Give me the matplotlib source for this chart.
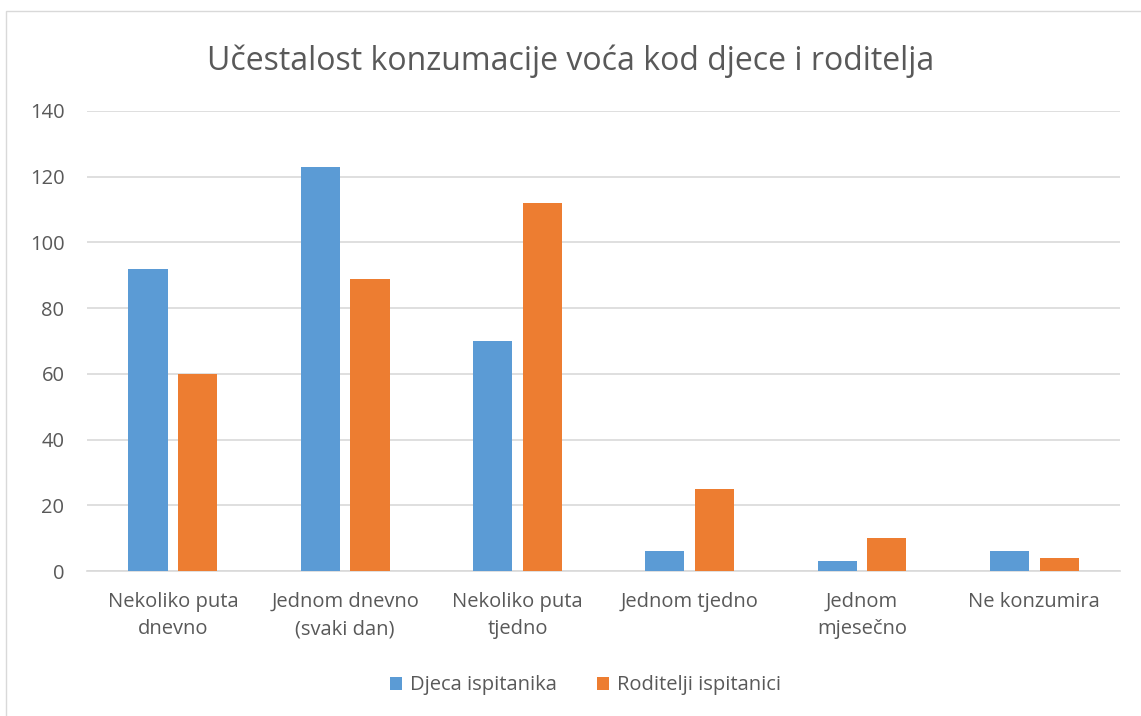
import numpy as np
import matplotlib.pyplot as plt
from matplotlib.patches import Rectangle

plt.rcParams['font.family'] = ['Open Sans', 'DejaVu Sans']

categories = ["Nekoliko puta\ndnevno", "Jednom dnevno\n(svaki dan)", "Nekoliko puta\ntjedno",
              "Jednom tjedno", "Jednom\nmjesečno", "Ne konzumira"]
djeca = [92, 123, 70, 6, 3, 6]
roditelji = [60, 89, 112, 25, 10, 4]
yticks = [0, 20, 40, 60, 80, 100, 120, 140]

blue = "#5B9BD5"
orange = "#ED7D31"
text_col = "#595959"

fig = plt.figure(figsize=(11.41, 7.16), dpi=100)
# chart border
fig.patches.append(Rectangle((0.005, -0.01), 1.2, 0.994, transform=fig.transFigure,
                             fill=False, edgecolor="#D9D9D9", linewidth=1))

ax = fig.add_axes([0.076, 0.2025, 0.906, 0.6425])
x = np.arange(len(categories))
w = 0.227
ax.bar(x - 0.144, djeca, w, color=blue, label="Djeca ispitanika", zorder=3)
ax.bar(x + 0.144, roditelji, w, color=orange, label="Roditelji ispitanici", zorder=3)

ax.set_xlim(-0.5, len(categories) - 0.5)
ax.set_ylim(0, 140)
ax.set_yticks(yticks)
ax.grid(axis="y", color="#D9D9D9", linewidth=1.2, zorder=0)
for s in ["top", "right", "left"]:
    ax.spines[s].set_visible(False)
ax.spines["bottom"].set_color("#D9D9D9")
ax.spines["bottom"].set_linewidth(1.2)
ax.tick_params(axis="both", length=0, labelsize=14.5, labelcolor=text_col)
ax.tick_params(axis="y", pad=16)
ax.tick_params(axis="x", pad=15)
ax.set_xticks(x)
ax.set_xticklabels(categories, linespacing=1.5)

fig.text(0.5, 0.914, "Učestalost konzumacije voća kod djece i roditelja", ha="center",
         va="center", fontsize=23, color=text_col)

leg = fig.legend(loc="center", bbox_to_anchor=(0.513, 0.043), ncol=2, frameon=False,
                 fontsize=14.5, handlelength=0.6, handleheight=0.6, columnspacing=2.0,
                 handletextpad=0.4)
for t in leg.get_texts():
    t.set_color(text_col)

fig.savefig("out.png", dpi=100)
